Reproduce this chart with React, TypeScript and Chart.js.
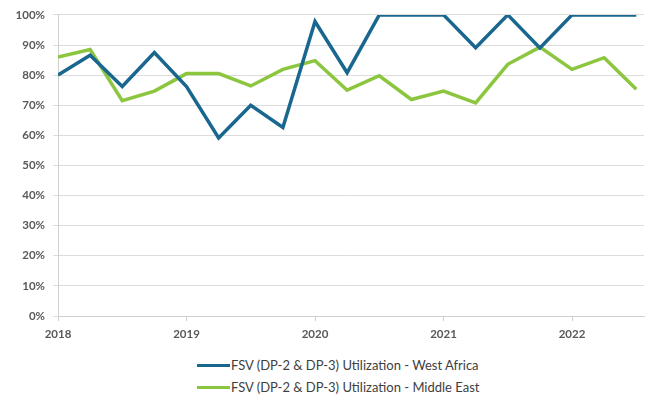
import React, { useEffect, useRef } from "react";
import { Chart, registerables } from "chart.js";

Chart.register(...registerables);

const quarters = [
  2018, 2018.25, 2018.5, 2018.75,
  2019, 2019.25, 2019.5, 2019.75,
  2020, 2020.25, 2020.5, 2020.75,
  2021, 2021.25, 2021.5, 2021.75,
  2022, 2022.25, 2022.5,
];
const westAfrica = [
  0.80, 0.866, 0.762, 0.875,
  0.762, 0.591, 0.70, 0.626,
  0.978, 0.808, 1.0, 1.0,
  1.0, 0.891, 1.0, 0.89,
  1.0, 1.0, 1.0,
];
const middleEast = [
  0.86, 0.885, 0.715, 0.747,
  0.805, 0.805, 0.764, 0.819,
  0.848, 0.75, 0.798, 0.719,
  0.747, 0.708, 0.836, 0.893,
  0.819, 0.858, 0.753,
];
const seriesNames = [
  "FSV (DP-2 & DP-3) Utilization - West Africa",
  "FSV (DP-2 & DP-3) Utilization - Middle East",
];
const colors = ["#19668f", "#8cc63f"];

export default function App() {
  const ref = useRef<HTMLCanvasElement | null>(null);
  useEffect(() => {
    document.body.style.margin = "0";
    const ctx = ref.current!;
    const font = { family: "Lato, 'Open Sans', sans-serif", size: 11.5, weight: "bold" as const };
    const chart = new Chart(ctx, {
      type: "line",
      data: {
        datasets: [
          {
            label: seriesNames[0],
            data: quarters.map((q, i) => ({ x: q, y: westAfrica[i] })),
            borderColor: colors[0],
            backgroundColor: colors[0],
            borderWidth: 3.5,
            pointRadius: 0,
            tension: 0,
          },
          {
            label: seriesNames[1],
            data: quarters.map((q, i) => ({ x: q, y: middleEast[i] })),
            borderColor: colors[1],
            backgroundColor: colors[1],
            borderWidth: 3.5,
            pointRadius: 0,
            tension: 0,
          },
        ],
      },
      options: {
        responsive: false,
        animation: false,
        layout: { padding: { top: 13, right: 3, left: 0, bottom: 0 } },
        plugins: { legend: { display: false }, tooltip: { enabled: false } },
        scales: {
          x: {
            type: "linear",
            min: 2018,
            max: 2022.56,
            afterFit: (s: any) => { s.height = 29; },
            afterBuildTicks: (s: any) => {
              s.ticks = [2018, 2019, 2020, 2021, 2022].map((v) => ({ value: v }));
            },
            ticks: {
              callback: (v: any) => String(v),
              color: "#595959",
              font,
              padding: 6,
              maxRotation: 0,
            },
            grid: {
              drawOnChartArea: false,
              drawTicks: true,
              tickLength: 5,
              color: "#d0d0d0",
            },
            border: { color: "#d0d0d0" },
          },
          y: {
            min: 0,
            max: 1,
            afterFit: (s: any) => { s.width = 58; },
            ticks: {
              stepSize: 0.1,
              callback: (v: any) => Math.round(Number(v) * 100) + "%",
              color: "#595959",
              font,
              padding: 8,
            },
            grid: { color: "#dcdcdc", tickLength: 5 },
            border: { color: "#d0d0d0" },
          },
        },
      },
    });
    return () => chart.destroy();
  }, []);

  const legendStyle: React.CSSProperties = {
    position: "absolute",
    left: 197,
    display: "flex",
    alignItems: "center",
    fontFamily: "Lato, 'Open Sans', sans-serif",
    fontSize: 13,
    color: "#404040",
    whiteSpace: "nowrap",
  };
  return (
    <div style={{ position: "relative", width: 647, height: 403, background: "#fff" }}>
      <canvas ref={ref} width={647} height={345} style={{ display: "block" }} />
      {seriesNames.map((name, i) => (
        <div key={name} style={{ ...legendStyle, top: 357 + i * 22 }}>
          <span style={{ display: "inline-block", width: 33, height: 3, background: colors[i], marginRight: 1 }} />
          <span>{name}</span>
        </div>
      ))}
    </div>
  );
}
